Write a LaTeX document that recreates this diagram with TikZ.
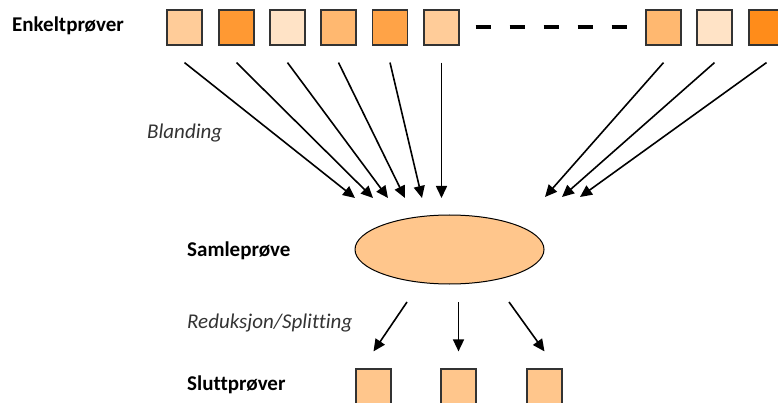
\documentclass[tikz,border=0pt]{standalone}
\usepackage{fontspec}
\setmainfont{Carlito}[Ligatures=NoCommon]
\usetikzlibrary{arrows.meta,shapes.geometric}
\definecolor{oraLight}{HTML}{FFCC99}
\definecolor{oraDark}{HTML}{FF9933}
\definecolor{oraPale}{HTML}{FFE3C6}
\definecolor{oraMid}{HTML}{FFB870}
\definecolor{oraDeep}{HTML}{FF8C1A}
\definecolor{oraBlend}{HTML}{FFC68C}
\begin{document}
\begin{tikzpicture}[x=1pt,y=-1pt,
    sample/.style={draw=black!80, line width=1.2pt, minimum size=35pt, inner sep=0pt},
    label/.style={font=\bfseries\fontsize{21}{24}\selectfont, anchor=base west, inner sep=0pt},
    step label/.style={font=\itshape\fontsize{21}{24}\selectfont, text=black!80, anchor=base west, inner sep=0pt},
    mix/.style={-{Triangle[length=12pt,width=11pt]}, line width=1.6pt}]
    \useasboundingbox (0,0) rectangle (778,403);
    \clip (0,0) rectangle (778,403);
     % single samples
     \path (184.5,27.5) node[sample, fill=oraLight] (e1) {};
     \path (236.5,27.5) node[sample, fill=oraDark] (e2) {};
     \path (287.5,27.5) node[sample, fill=oraPale] (e3) {};
     \path (338.5,27.5) node[sample, fill=oraMid] (e4) {};
     \path (390,27.5) node[sample, fill=oraDark!90!white] (e5) {};
     \path (441.5,27.5) node[sample, fill=oraLight] (e6) {};
     \path (663.5,27.5) node[sample, fill=oraMid] (e7) {};
     \path (714.5,27.5) node[sample, fill=oraPale] (e8) {};
     \path (766.5,27.5) node[sample, fill=oraDeep] (e9) {};
     \draw[line width=4pt, dash pattern=on 15pt off 19pt]
        ([xshift=16pt]e6.east) -- ([xshift=-18pt]e7.west);
     % composite sample
     \path (449.5,249.5) node[ellipse, draw, line width=1pt, fill=oraBlend,
        minimum width=189pt, minimum height=69pt, inner sep=0pt] (blend) {};
     % final samples
     \path (373.5,386.5) node[sample, fill=oraBlend] (s1) {};
     \path (458.5,386.5) node[sample, fill=oraBlend] (s2) {};
     \path (544.5,386.5) node[sample, fill=oraBlend] (s3) {};
     % arrow ends
     \coordinate (t1) at (355,198);
     \coordinate (t2) at (373,198);
     \coordinate (t3) at (388,198);
     \coordinate (t4) at (405,198);
     \coordinate (t5) at (422,198);
     \coordinate (t6) at (441.5,198);
     \coordinate (t7) at (545,197);
     \coordinate (t8) at (562,197);
     \coordinate (t9) at (580,197);
     \foreach \i in {1,...,9}
        \draw[mix] ([yshift=-17pt]e\i.south) -- (t\i);
     \coordinate (r1) at (407,302);
     \coordinate (r2) at (458.5,302);
     \coordinate (r3) at (509,302);
     \draw[mix] (r1) -- ([yshift=17pt]s1.north);
     \draw[mix] (r2) -- ([yshift=17pt]s2.north);
     \draw[mix] (r3) -- ([yshift=17pt]s3.north);
     % texts
     \path (12,32) node[label] (enkelt) {Enkeltprøver};
     \path (147,139) node[step label] (blanding) {Blanding};
     \path (187,256) node[label] (samle) {Samleprøve};
     \path (187,328) node[step label] (reduksjon) {Reduksjon/Splitting};
     \path (187,390) node[label] (slutt) {Sluttprøver};
\end{tikzpicture}
\end{document}
